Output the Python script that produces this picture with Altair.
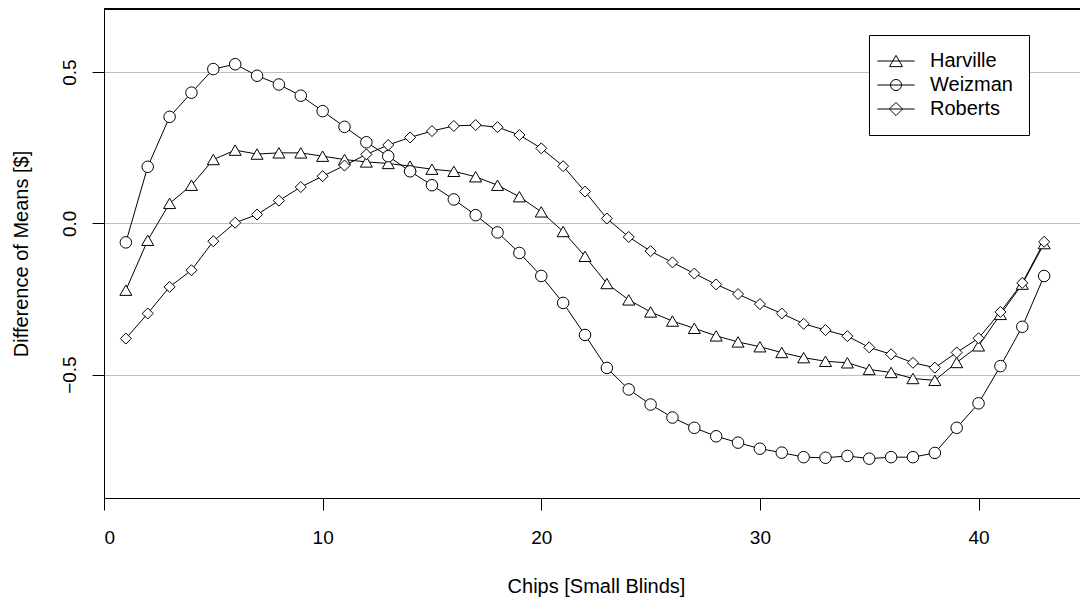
import altair as alt
import pandas as pd

chips = list(range(1, 44))
harville = [-0.221, -0.056, 0.066, 0.126, 0.211, 0.242, 0.229, 0.233, 0.233, 0.222,
            0.211, 0.203, 0.198, 0.189, 0.179, 0.172, 0.154, 0.126, 0.088, 0.038,
            -0.027, -0.109, -0.199, -0.253, -0.293, -0.323, -0.347, -0.372, -0.392, -0.408,
            -0.427, -0.444, -0.456, -0.461, -0.483, -0.493, -0.513, -0.519, -0.460, -0.405,
            -0.301, -0.201, -0.067]
weizman = [-0.063, 0.187, 0.352, 0.432, 0.510, 0.526, 0.488, 0.459, 0.422, 0.371,
           0.319, 0.268, 0.222, 0.172, 0.126, 0.079, 0.027, -0.030, -0.098, -0.174,
           -0.263, -0.369, -0.478, -0.549, -0.599, -0.642, -0.676, -0.704, -0.725, -0.745,
           -0.758, -0.773, -0.775, -0.769, -0.778, -0.773, -0.773, -0.759, -0.676, -0.595,
           -0.472, -0.342, -0.174]
roberts = [-0.381, -0.298, -0.210, -0.155, -0.059, 0.002, 0.029, 0.075, 0.120, 0.156,
           0.191, 0.228, 0.259, 0.284, 0.305, 0.322, 0.325, 0.318, 0.292, 0.248,
           0.189, 0.105, 0.016, -0.045, -0.092, -0.129, -0.166, -0.202, -0.234, -0.267,
           -0.298, -0.332, -0.353, -0.373, -0.410, -0.433, -0.461, -0.477, -0.427, -0.380,
           -0.293, -0.197, -0.061]

series_names = ["Harville", "Weizman", "Roberts"]
x_ticks = [0, 10, 20, 30, 40]
y_ticks = [-0.5, 0.0, 0.5]

rows = []
for name, vals in zip(series_names, [harville, weizman, roberts]):
    for c, v in zip(chips, vals):
        rows.append({"chips": c, "value": v, "series": name})
df = pd.DataFrame(rows)

FONT = "Liberation Sans"

x_enc = alt.X("chips:Q",
              scale=alt.Scale(domain=[0, 44.64], nice=False, zero=False),
              axis=alt.Axis(values=x_ticks, title="Chips [Small Blinds]", grid=False,
                            tickSize=12, tickColor="black", domainColor="black",
                            labelFontSize=19, labelFont=FONT, labelColor="black",
                            labelBaseline="alphabetic", labelPadding=33.5,
                            titleFontSize=20, titleFont=FONT, titleColor="black",
                            titleFontWeight="normal", titleBaseline="alphabetic",
                            titleY=94, titleX=492, titleAlign="center"))
y_enc = alt.Y("value:Q",
              scale=alt.Scale(domain=[-0.908, 0.7086], nice=False, zero=False),
              axis=alt.Axis(values=y_ticks, format=".1f", title="Difference of Means [$]",
                            grid=True, gridColor="#bebebe", gridWidth=1,
                            tickSize=12, tickColor="black", domainColor="black",
                            labelFontSize=19, labelFont=FONT, labelColor="black",
                            labelAngle=-90, labelAlign="center", labelBaseline="alphabetic",
                            labelPadding=17,
                            titleFontSize=20, titleFont=FONT, titleColor="black",
                            titleFontWeight="normal", titleBaseline="alphabetic",
                            titleX=-77))

base = alt.Chart(df)

lines = base.mark_line(color="black", strokeWidth=1).encode(
    x=x_enc, y=y_enc, detail="series:N")

points = base.mark_point(filled=False, fill="white", stroke="black", strokeWidth=1, opacity=1).encode(
    x="chips:Q", y="value:Q",
    shape=alt.Shape("series:N",
                    scale=alt.Scale(domain=series_names,
                                    range=["triangle-up", "circle", "diamond"]),
                    legend=None),
    size=alt.Size("series:N",
                  scale=alt.Scale(domain=series_names, range=[144, 121, 196]),
                  legend=None))

# legend glyphs: unit = 6 px (symbolSize 144)
legend_paths = [
    "M-3.1,0L3.1,0M0,-0.94L-1.08,0.94L1.08,0.94Z",
    "M-3.1,0L3.1,0M0.92,0A0.92,0.92,0,1,1,-0.92,0A0.92,0.92,0,1,1,0.92,0Z",
    "M-3.1,0L3.1,0M-1.1,0L0,-1.1L1.1,0L0,1.1Z",
]

legend_layer = base.mark_point(filled=False, stroke="black", opacity=0).encode(
    x="chips:Q", y="value:Q",
    shape=alt.Shape("series:N",
                    scale=alt.Scale(domain=series_names, range=legend_paths),
                    legend=alt.Legend(title=None, orient="none", legendX=765, legendY=26,
                                      strokeColor="black", fillColor="white", padding=16,
                                      symbolSize=144, symbolStrokeWidth=1, symbolOffset=1,
                                      symbolStrokeColor="black", symbolFillColor="transparent",
                                      symbolOpacity=1, labelFontSize=20, labelFont=FONT,
                                      labelColor="black", labelOffset=24, rowPadding=4,
                                      cornerRadius=0)))

top_line = alt.Chart(df).mark_rule(color="black", strokeWidth=1).encode(y=alt.value(0))

chart = alt.layer(lines, points, legend_layer, top_line).resolve_scale(
    shape="independent"
).properties(
    width=976, height=489,
    autosize=alt.AutoSizeParams(type="none"),
    padding={"left": 104, "top": 9, "right": 0, "bottom": 101},
    background="white",
).configure_view(stroke=None)

chart.save("out.html", embed_options={"renderer": "svg", "actions": False})
